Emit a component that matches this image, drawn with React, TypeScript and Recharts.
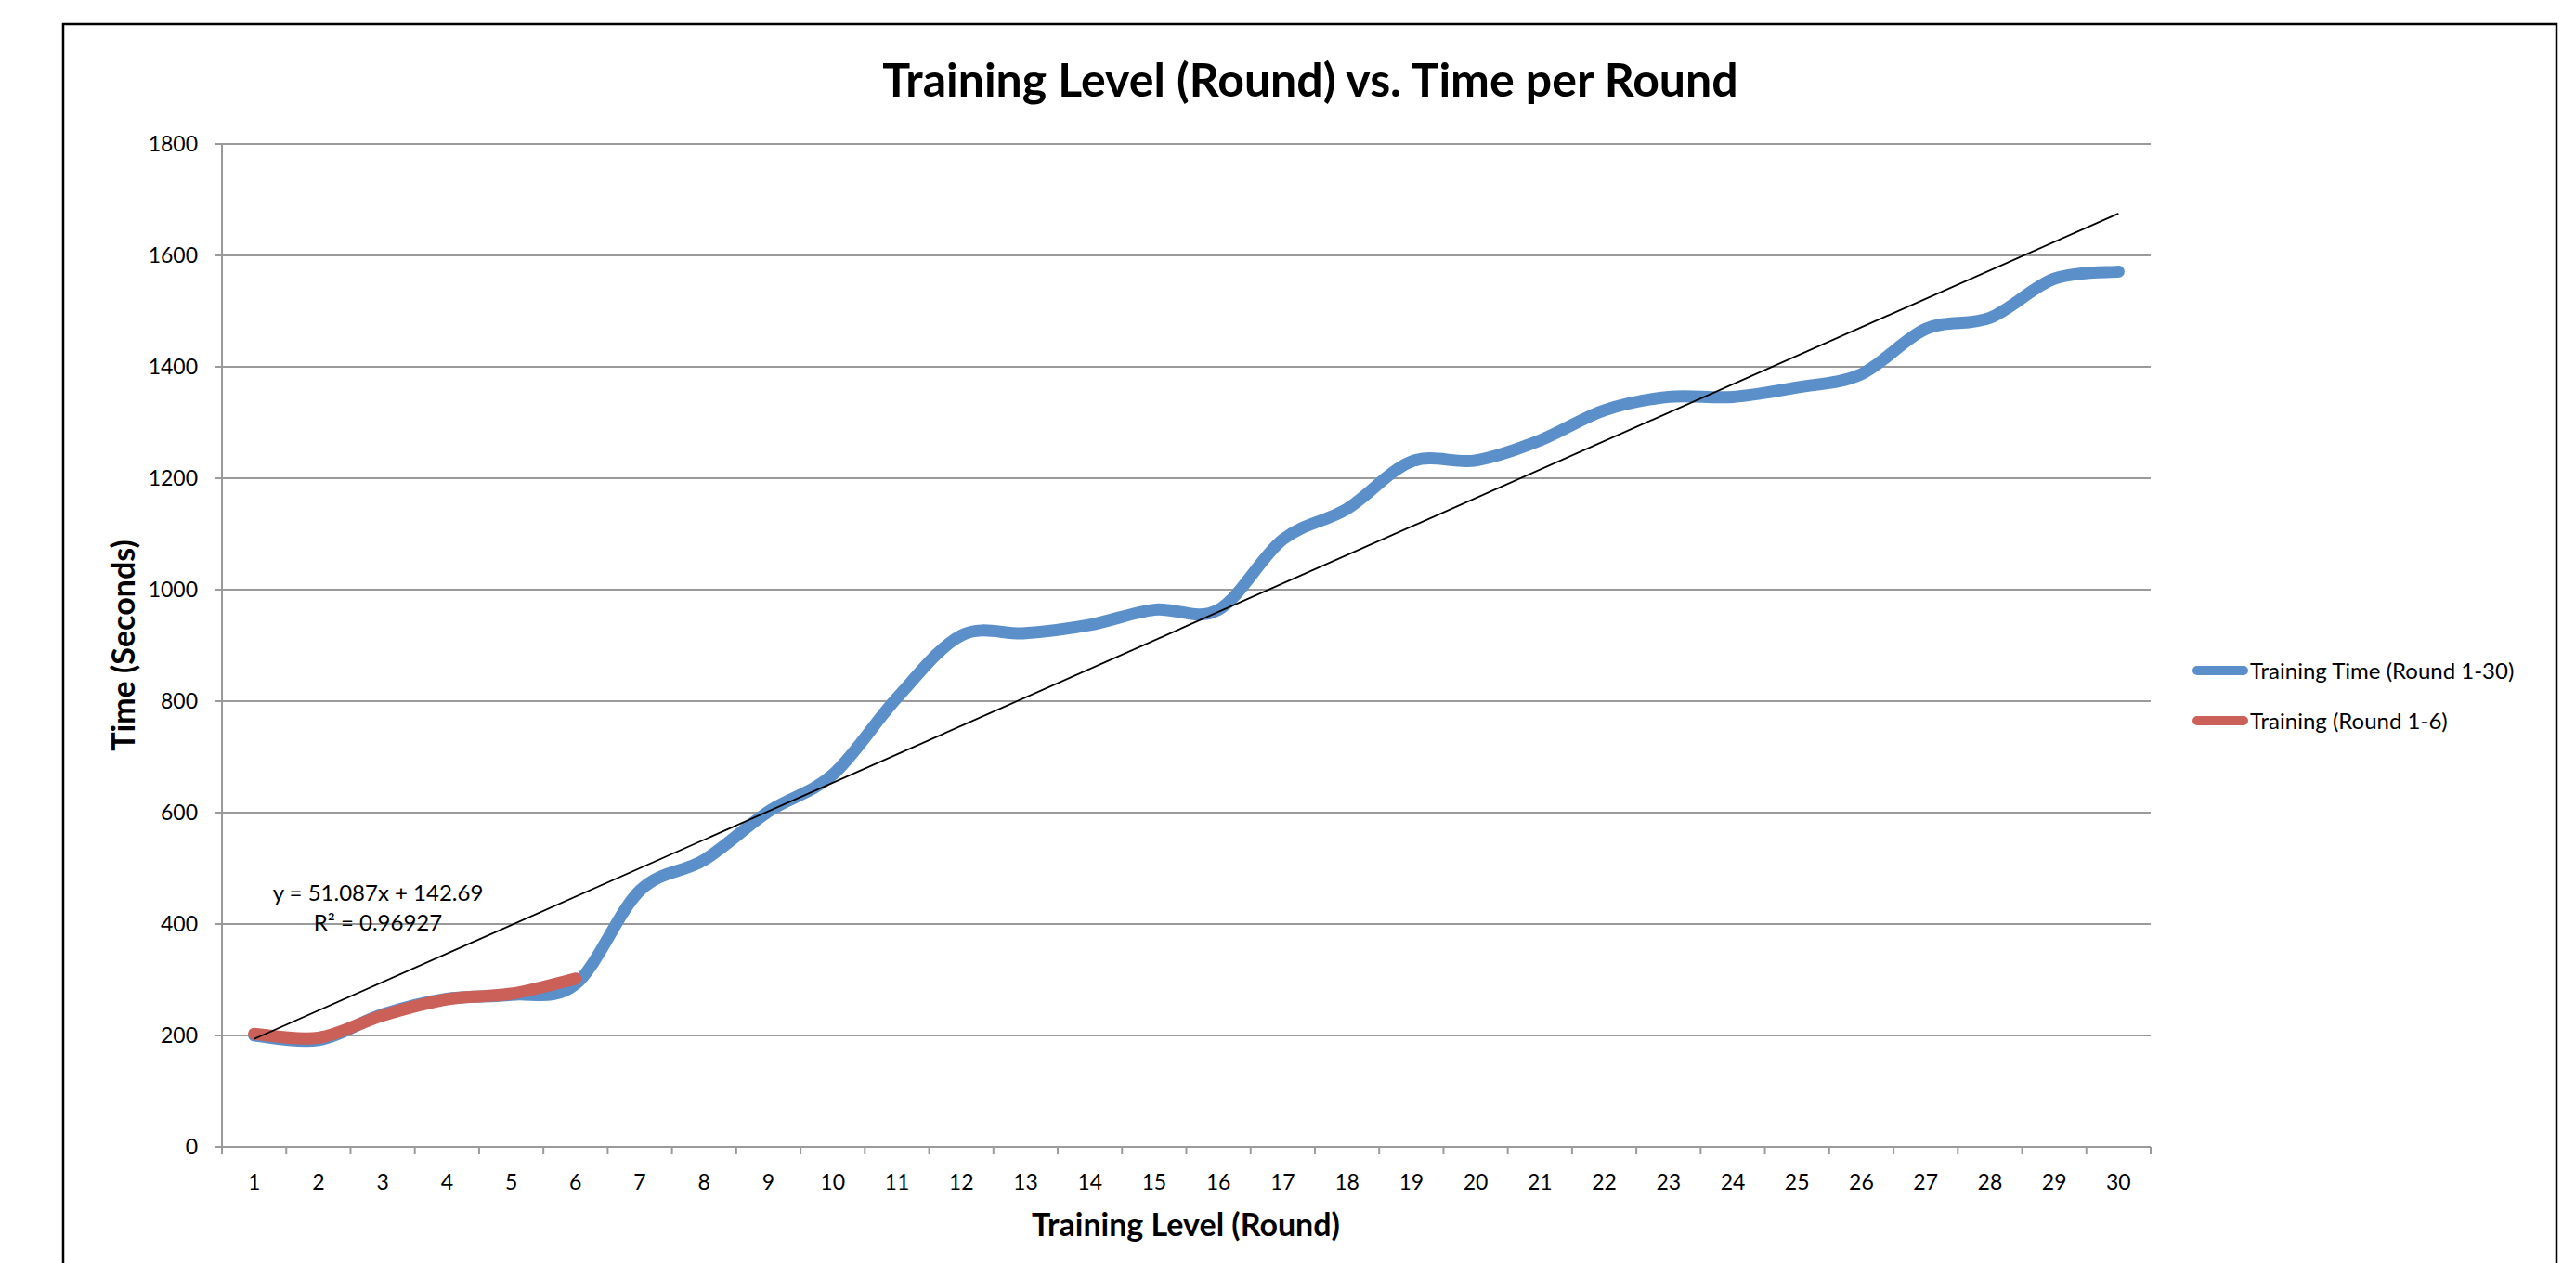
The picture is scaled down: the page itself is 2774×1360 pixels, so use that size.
import React from 'react';
import { LineChart, Line, XAxis, YAxis, CartesianGrid, ReferenceLine } from 'recharts';

const rounds = [1, 2, 3, 4, 5, 6, 7, 8, 9, 10, 11, 12, 13, 14, 15, 16, 17, 18, 19, 20, 21, 22, 23, 24, 25, 26, 27, 28, 29, 30];
const trainingTime = [200, 192, 238, 266, 273, 292, 460, 515, 602, 668, 806, 918, 922, 937, 964, 964, 1090, 1145, 1230, 1232, 1268, 1322, 1346, 1346, 1363, 1387, 1468, 1488, 1558, 1571];
const trainingEarly = [203, 196, 236, 265, 275, 302];
const yTicks = [0, 200, 400, 600, 800, 1000, 1200, 1400, 1600, 1800];

const trendSlope = 51.087;
const trendIntercept = 142.69;
const trendLabel = 'y = 51.087x + 142.69';
const r2Label = 'R² = 0.96927';

const seriesNames = ['Training Time (Round 1-30)', 'Training (Round 1-6)'];
const BLUE = '#5b8fc9';
const RED = '#cb6058';
const GRID = '#9a9a9a';
const FONT = 'Lato, sans-serif';

const data = rounds.map((r, i) => ({
  round: r,
  total: trainingTime[i],
  early: i < trainingEarly.length ? trainingEarly[i] : null,
}));

// labels on whole rounds, tick marks on the boundaries between them (like excel)
const xTicks = [rounds[0] - 0.5, ...rounds.flatMap(r => [r, r + 0.5])];

// excel style smoothed line (catmull-rom through the points)
const excelSmooth = (context: any) => {
  let pts: number[][] = [];
  return {
    areaStart() {},
    areaEnd() {},
    lineStart() { pts = []; },
    point(x: number, y: number) { pts.push([+x, +y]); },
    lineEnd() {
      const n = pts.length;
      if (!n) return;
      context.moveTo(pts[0][0], pts[0][1]);
      for (let i = 0; i < n - 1; i++) {
        const p0 = pts[Math.max(i - 1, 0)];
        const p1 = pts[i];
        const p2 = pts[i + 1];
        const p3 = pts[Math.min(i + 2, n - 1)];
        context.bezierCurveTo(
          p1[0] + (p2[0] - p0[0]) / 6, p1[1] + (p2[1] - p0[1]) / 6,
          p2[0] - (p3[0] - p1[0]) / 6, p2[1] - (p3[1] - p1[1]) / 6,
          p2[0], p2[1],
        );
      }
    },
  };
};

const XTick = ({ x, y, payload }: any) => {
  const v = payload.value;
  if (Number.isInteger(v)) {
    return (
      <text x={x} y={y + 46} textAnchor="middle" fontSize={23} fontFamily={FONT} fill="#000">{v}</text>
    );
  }
  return <line x1={x} y1={y} x2={x} y2={y + 8} stroke={GRID} strokeWidth={2} />;
};

export default function App() {
  return (
    <div style={{ position: 'absolute', left: 0, top: 0, width: 2774, height: 1360, background: '#fff', overflow: 'hidden' }}>
      <LineChart width={2774} height={1360} data={data} margin={{ top: 155, right: 458, bottom: 65, left: 139 }}>
        <CartesianGrid vertical={false} stroke={GRID} strokeWidth={2} />
        <XAxis
          type="number"
          dataKey="round"
          domain={[0.5, 30.5]}
          ticks={xTicks}
          interval={0}
          height={60}
          tick={<XTick />}
          tickLine={false}
          tickSize={0}
          tickMargin={0}
          axisLine={{ stroke: GRID, strokeWidth: 2 }}
        />
        <YAxis
          domain={[0, 1800]}
          ticks={yTicks}
          width={100}
          tickSize={8}
          tickMargin={18}
          tickLine={{ stroke: GRID, strokeWidth: 2 }}
          axisLine={{ stroke: GRID, strokeWidth: 2 }}
          tick={{ fontSize: 23, fontFamily: FONT, fill: '#000' }}
        />
        <Line dataKey="total" name={seriesNames[0]} type={excelSmooth as any} stroke={BLUE} strokeWidth={13}
          strokeLinecap="round" strokeLinejoin="round" dot={false} activeDot={false} isAnimationActive={false} />
        <Line dataKey="early" name={seriesNames[1]} type={excelSmooth as any} stroke={RED} strokeWidth={13}
          strokeLinecap="round" strokeLinejoin="round" dot={false} activeDot={false} isAnimationActive={false} connectNulls={false} />
        <ReferenceLine
          segment={[
            { x: rounds[0], y: trendSlope * rounds[0] + trendIntercept },
            { x: rounds[rounds.length - 1], y: trendSlope * rounds[rounds.length - 1] + trendIntercept },
          ]}
          stroke="#000"
          strokeWidth={1.8}
          ifOverflow="visible"
        />
      </LineChart>

      <svg width={2774} height={1360} style={{ position: 'absolute', left: 0, top: 0, pointerEvents: 'none' }}>
        <rect x={68} y={26} width={2685} height={1400} fill="none" stroke="#000" strokeWidth={2.5} />
        <text x={1411} y={104} textAnchor="middle" fontSize={50} fontWeight="bold" fontFamily={FONT}>
          Training Level (Round) vs. Time per Round
        </text>
        <text x={145} y={695} transform="rotate(-90 145 695)" textAnchor="middle" fontSize={34} fontWeight="bold" fontFamily={FONT}>
          Time (Seconds)
        </text>
        <text x={1277} y={1331} textAnchor="middle" fontSize={34} fontWeight="bold" fontFamily={FONT}>
          Training Level (Round)
        </text>
        <text x={407} y={970} textAnchor="middle" fontSize={24} fontFamily={FONT}>{trendLabel}</text>
        <text x={407} y={1002} textAnchor="middle" fontSize={24} fontFamily={FONT}>{r2Label}</text>

        <line x1={2366} y1={722} x2={2416} y2={722} stroke={BLUE} strokeWidth={10} strokeLinecap="round" />
        <text x={2423} y={731} fontSize={24} fontFamily={FONT}>{seriesNames[0]}</text>
        <line x1={2366} y1={776} x2={2416} y2={776} stroke={RED} strokeWidth={10} strokeLinecap="round" />
        <text x={2423} y={785} fontSize={24} fontFamily={FONT}>{seriesNames[1]}</text>
      </svg>
    </div>
  );
}
